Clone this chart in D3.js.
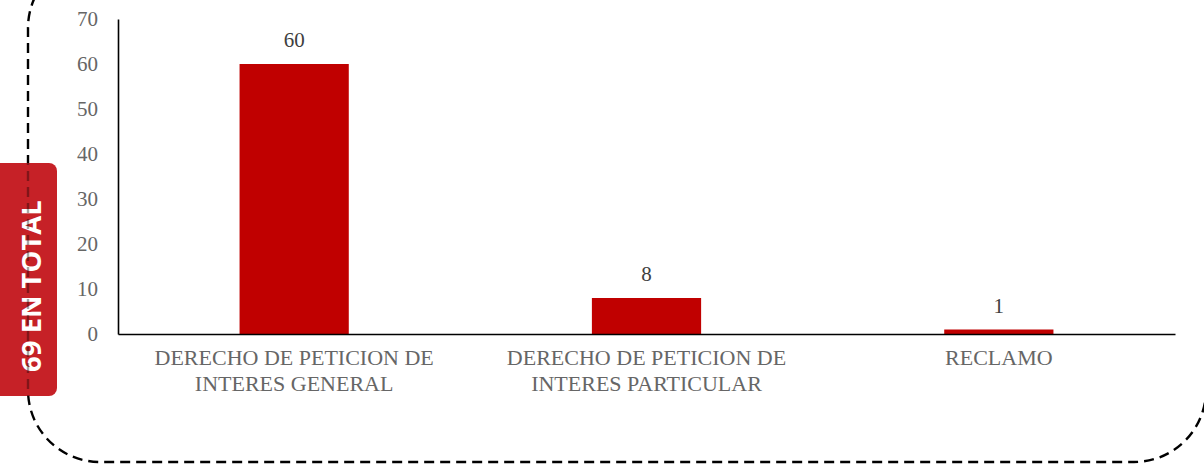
<!DOCTYPE html>
<html><head><meta charset="utf-8">
<script src="https://cdn.jsdelivr.net/npm/d3@7"></script>
<style>body{margin:0;background:#fff}svg{display:block}</style>
</head><body>
<svg id="c" width="1204" height="469"></svg>
<script>
const categories = [["DERECHO DE PETICION DE","INTERES GENERAL"],["DERECHO DE PETICION DE","INTERES PARTICULAR"],["RECLAMO"]];
const values = [60, 8, 1];
const yTicks = [0,10,20,30,40,50,60,70];
const totalLabel = "69 EN TOTAL";

const svg = d3.select("#c");
const m = {left:118, right:1175, top:19, bottom:334};
const x = d3.scaleBand().domain(d3.range(values.length)).range([m.left, m.right]).paddingInner(0.69).paddingOuter(0.345);
const y = d3.scaleLinear().domain([0,70]).range([m.bottom, m.top]);

const frame = {x0:28, y0:-44, x1:1206, y1:462, r:72};
function framePath(){
  const p = d3.path(), f = frame;
  p.moveTo(f.x0 + f.r, f.y0);
  p.arcTo(f.x0, f.y0, f.x0, f.y0 + f.r, f.r);
  p.lineTo(f.x0, f.y1 - f.r);
  p.arcTo(f.x0, f.y1, f.x0 + f.r, f.y1, f.r);
  p.lineTo(f.x1 - f.r, f.y1);
  p.arcTo(f.x1, f.y1, f.x1, f.y1 - f.r, f.r);
  p.lineTo(f.x1, f.y0);
  return p.toString();
}
function drawFrame(g, op){
  g.append("path").attr("d", framePath()).attr("fill","none").attr("stroke","#000")
    .attr("stroke-opacity",op).attr("stroke-width",2.4).attr("stroke-dasharray","10,6");
}
drawFrame(svg, 1);

// bars
svg.selectAll(".bar").data(values).enter().append("rect")
  .attr("x",(d,i)=>x(i)).attr("width",x.bandwidth())
  .attr("y",d=>y(d)).attr("height",d=>y(0)-y(d)).attr("fill","#c00000");

// value labels
svg.selectAll(".vl").data(values).enter().append("text")
  .attr("x",(d,i)=>x(i)+x.bandwidth()/2).attr("y",d=>y(d)-17)
  .attr("text-anchor","middle").attr("font-family","Liberation Serif, serif")
  .attr("font-size",21).attr("fill","#404040").text(d=>d);

// y axis
const ya = d3.axisLeft(y).tickValues(yTicks).tickSize(0).tickPadding(20);
const gy = svg.append("g").attr("transform",`translate(${m.left},0)`).call(ya);
gy.select(".domain").attr("stroke","#000").attr("stroke-width",1.6);
gy.selectAll("text").attr("font-family","Liberation Serif, serif").attr("font-size",21).attr("fill","#666");

// x axis
const xa = d3.axisBottom(x).tickSize(0).tickFormat("");
const gx = svg.append("g").attr("transform",`translate(0,${m.bottom})`).call(xa);
gx.select(".domain").attr("stroke","#000").attr("stroke-width",1.6);

categories.forEach((lines,i)=>{
  const cx = x(i)+x.bandwidth()/2;
  const t = svg.append("text").attr("x",cx).attr("y",365)
    .attr("text-anchor","middle").attr("font-family","Liberation Serif, serif")
    .attr("font-size",22).attr("fill","#666");
  lines.forEach((l,j)=>t.append("tspan").attr("x",cx).attr("dy",j?26:0).text(l));
});

// total badge
svg.append("rect").attr("x",-10).attr("y",163).attr("width",67).attr("height",233)
  .attr("rx",8).attr("fill","#c62127");
svg.append("text").attr("transform","translate(41,286) rotate(-90)")
  .attr("text-anchor","middle").attr("font-family","Open Sans, sans-serif")
  .attr("font-weight","bold").attr("font-size",27.5).attr("fill","#fff")
  .text(totalLabel);
// frame showing faintly through badge
svg.append("clipPath").attr("id","bc").append("rect").attr("x",0).attr("y",163).attr("width",57).attr("height",233);
drawFrame(svg.append("g").attr("clip-path","url(#bc)"), 0.35);
</script>
</body></html>
